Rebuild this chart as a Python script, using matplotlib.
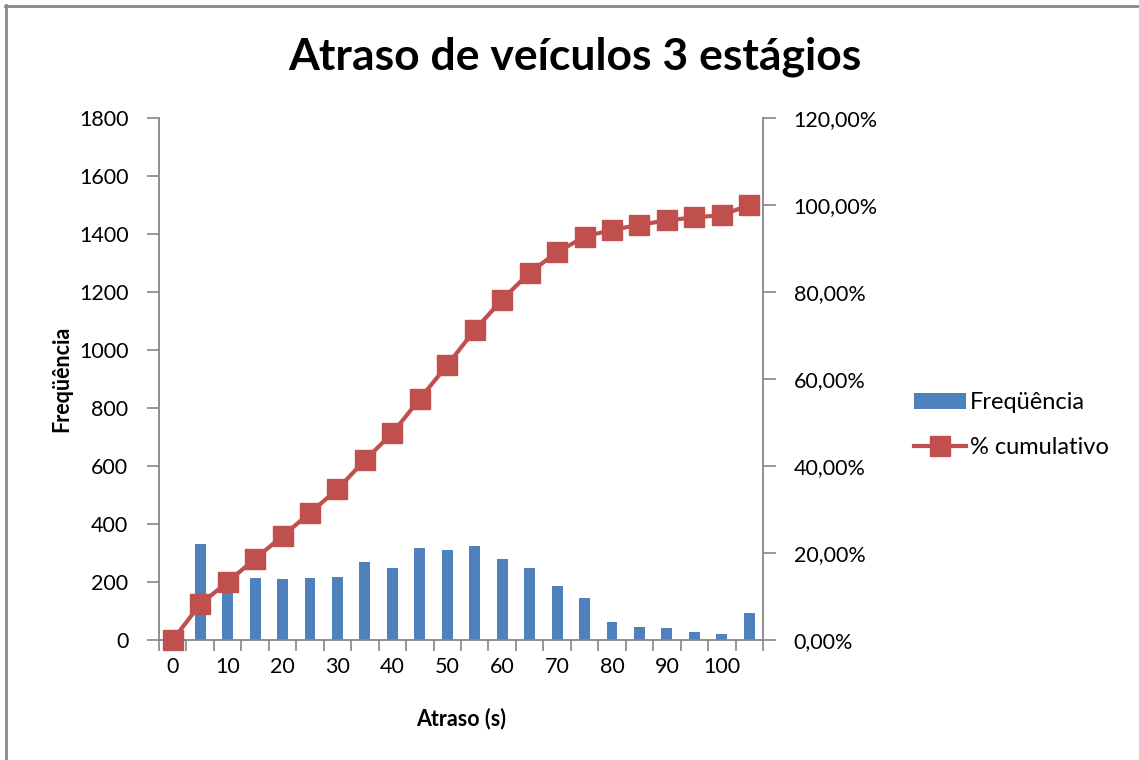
import numpy as np
import matplotlib
matplotlib.use("Agg")
import matplotlib.pyplot as plt
from matplotlib.lines import Line2D
from matplotlib.patches import Patch
from matplotlib.ticker import FuncFormatter

plt.rcParams['font.family'] = ['Lato', 'DejaVu Sans']

# Delay classes (s) and vehicle counts per class
atraso = [0, 5, 10, 15, 20, 25, 30, 35, 40, 45, 50,
          55, 60, 65, 70, 75, 80, 85, 90, 95, 100, 105]
frequencia = [0, 330, 205, 214, 209, 214, 218, 268, 249, 316, 311,
              324, 280, 249, 187, 144, 63, 46, 41, 28, 20, 94]
x_labels = ['0', '10', '20', '30', '40', '50', '60', '70', '80', '90', '100']

# Cumulative share of vehicles
cumulativo = np.cumsum(frequencia) / np.sum(frequencia)

BLUE = '#4F81BD'
RED = '#C0504D'
GRAY = '#868686'

W, H = 1139, 760
fig = plt.figure(figsize=(W / 100, H / 100), dpi=100)

ax = fig.add_axes([159 / W, 1 - 640 / H, (763 - 159) / W, (640 - 118) / H])
pos = np.arange(len(atraso))
ax.bar(pos, frequencia, width=0.4, color=BLUE, zorder=2)
ax.set_xlim(-0.5, len(atraso) - 0.5)
ax.set_ylim(0, 1800)
ax.set_yticks(np.arange(0, 1801, 200))

# tick marks at category boundaries, labels every second category
ax.set_xticks(np.arange(-0.5, len(atraso), 1.0))
ax.set_xticklabels([])
ax.set_xticks(pos[::2], minor=True)
ax.set_xticklabels(x_labels, minor=True)
ax.tick_params(axis='x', which='major', direction='out', length=8, width=1.2, color=GRAY)
ax.tick_params(axis='x', which='minor', length=0, pad=12, labelsize=15.5)
ax.tick_params(axis='y', direction='out', length=9, width=1.2, color=GRAY, pad=13, labelsize=15.5)

for side in ['top', 'right']:
    ax.spines[side].set_visible(False)
for side in ['left', 'bottom']:
    ax.spines[side].set_color(GRAY)
    ax.spines[side].set_linewidth(1.3)

ax.set_xlabel('Atraso (s)', fontsize=15.5, fontweight='bold', labelpad=22)
ax.set_ylabel('Freqüência', fontsize=15.5, fontweight='bold', labelpad=5)

ax2 = ax.twinx()
ax2.plot(pos, cumulativo, color=RED, lw=3, marker='s', markersize=14.5,
         markerfacecolor=RED, markeredgecolor=RED, clip_on=False, zorder=3)
ax2.set_ylim(0, 1.2)
ax2.set_yticks(np.arange(0, 1.21, 0.2))
ax2.yaxis.set_major_formatter(FuncFormatter(lambda v, p: f"{v * 100:.2f}%".replace('.', ',')))
ax2.tick_params(axis='y', direction='out', length=9, width=1.2, color=GRAY, pad=13, labelsize=15.5)
for side in ['top', 'left', 'bottom']:
    ax2.spines[side].set_visible(False)
ax2.spines['right'].set_color(GRAY)
ax2.spines['right'].set_linewidth(1.3)

fig.text(575 / W, 1 - 57 / H, 'Atraso de veículos 3 estágios', ha='center', va='center',
         fontsize=32, fontweight='bold')

handles = [Patch(facecolor=BLUE, edgecolor='none'),
           Line2D([0], [0], color=RED, lw=3, marker='s', markersize=14.5, markerfacecolor=RED)]
fig.legend(handles, ['Freqüência', '% cumulativo'], loc='center left',
           bbox_to_anchor=(893 / W, 1 - 425 / H), frameon=False, fontsize=17,
           handlelength=2.2, handletextpad=0.15, labelspacing=1.0)

# chart frame
fig.add_artist(Line2D([5 / W, 1], [1 - 6 / H, 1 - 6 / H], color='#898989', lw=2,
                      transform=fig.transFigure))
fig.add_artist(Line2D([6 / W, 6 / W], [0, 1 - 5 / H], color='#898989', lw=2,
                      transform=fig.transFigure))

fig.savefig('out.png', dpi=100)
